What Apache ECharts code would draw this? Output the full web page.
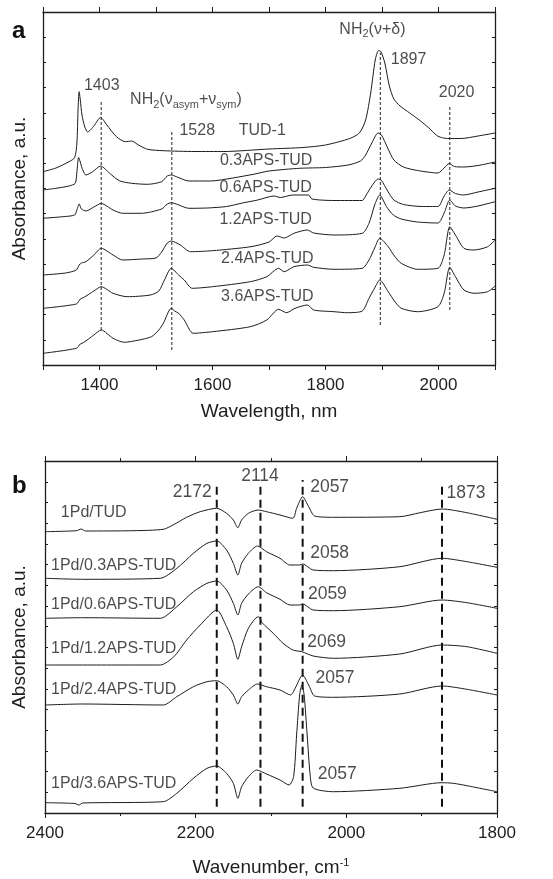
<!DOCTYPE html>
<html>
<head>
<meta charset="utf-8">
<script src="https://cdn.jsdelivr.net/npm/echarts@6/dist/echarts.min.js"></script>
<style>
  html, body { margin: 0; padding: 0; background: #fff; }
  #chart { width: 553px; height: 879px; }
</style>
</head>
<body>
<div id="chart"></div>
<script>
// ---------- Panel a: NIR spectra (wavelength, nm ; absorbance, a.u.) ----------
const tud1 = [[1300,1.933],[1323,1.97],[1346,2.033],[1356,2.073],[1360,2.22],[1362,2.55],[1364,2.733],[1366,2.65],[1369,2.50],[1374,2.38],[1379,2.33],[1390,2.39],[1402,2.475],[1413,2.40],[1430,2.283],[1446,2.233],[1457,2.24],[1469,2.20],[1485,2.157],[1513,2.143],[1569,2.135],[1620,2.135],[1700,2.16],[1760,2.175],[1800,2.20],[1843,2.265],[1860,2.32],[1871,2.45],[1880,2.72],[1888,3.05],[1894,3.145],[1898,3.135],[1905,3.02],[1913,2.79],[1921,2.66],[1932,2.59],[1949,2.52],[1966,2.45],[1983,2.37],[1997,2.295],[2005,2.275],[2016,2.265],[2040,2.265],[2070,2.29],[2100,2.32]];
const aps03 = [[1300,1.75],[1323,1.767],[1346,1.79],[1357,1.817],[1360,1.93],[1363,2.075],[1366,2.03],[1369,1.97],[1376,1.90],[1388,1.933],[1402,1.99],[1418,1.917],[1435,1.843],[1457,1.817],[1485,1.807],[1510,1.833],[1520,1.89],[1527,1.90],[1536,1.883],[1558,1.84],[1597,1.84],[1636,1.87],[1675,1.91],[1700,1.94],[1754,1.967],[1800,1.975],[1840,2.00],[1862,2.04],[1871,2.10],[1882,2.22],[1893,2.32],[1899,2.30],[1910,2.17],[1921,2.05],[1938,1.98],[1963,1.945],[1999,1.92],[2010,1.97],[2019,2.015],[2028,1.985],[2045,1.98],[2070,1.995],[2100,2.03]];
const aps06 = [[1300,1.467],[1335,1.483],[1356,1.50],[1360,1.55],[1364,1.61],[1368,1.56],[1376,1.54],[1390,1.58],[1403,1.615],[1424,1.55],[1441,1.517],[1474,1.517],[1510,1.56],[1520,1.61],[1527,1.623],[1536,1.61],[1558,1.567],[1591,1.57],[1625,1.585],[1653,1.62],[1680,1.65],[1709,1.69],[1720,1.675],[1742,1.70],[1770,1.70],[1776,1.66],[1815,1.645],[1865,1.645],[1871,1.69],[1882,1.79],[1893,1.86],[1899,1.845],[1910,1.74],[1921,1.65],[1938,1.605],[1971,1.585],[1999,1.585],[2010,1.69],[2019,1.75],[2030,1.715],[2044,1.70],[2070,1.73],[2100,1.767]];
const aps12 = [[1300,0.90],[1340,0.92],[1359,0.95],[1364,1.00],[1368,1.02],[1376,1.033],[1390,1.10],[1403,1.167],[1424,1.10],[1441,1.05],[1475,1.06],[1500,1.07],[1510,1.13],[1520,1.22],[1527,1.24],[1543,1.20],[1561,1.133],[1600,1.143],[1668,1.183],[1700,1.23],[1714,1.29],[1727,1.27],[1744,1.317],[1768,1.35],[1779,1.32],[1815,1.30],[1865,1.317],[1877,1.417],[1887,1.60],[1896,1.70],[1908,1.583],[1920,1.50],[1934,1.46],[1963,1.43],[1999,1.42],[2010,1.52],[2020,1.65],[2030,1.59],[2045,1.57],[2070,1.59],[2100,1.633]];
const aps24 = [[1300,0.567],[1359,0.61],[1366,0.66],[1372,0.675],[1390,0.74],[1403,0.783],[1424,0.717],[1449,0.683],[1490,0.70],[1505,0.74],[1515,0.85],[1527,0.967],[1540,0.90],[1550,0.85],[1564,0.767],[1600,0.783],[1667,0.833],[1696,0.883],[1717,0.967],[1727,0.933],[1744,0.983],[1768,1.00],[1779,0.977],[1815,0.957],[1865,0.967],[1877,1.05],[1887,1.17],[1896,1.267],[1911,1.183],[1922,1.09],[1934,1.017],[1963,0.957],[1999,0.967],[2010,1.10],[2020,1.383],[2030,1.30],[2045,1.167],[2063,1.15],[2087,1.183],[2100,1.25]];
const aps36 = [[1300,0.117],[1359,0.167],[1366,0.21],[1372,0.225],[1390,0.30],[1403,0.35],[1424,0.267],[1444,0.227],[1470,0.25],[1492,0.283],[1505,0.35],[1513,0.417],[1527,0.567],[1533,0.54],[1540,0.517],[1550,0.45],[1566,0.317],[1600,0.333],[1667,0.383],[1696,0.45],[1717,0.557],[1731,0.523],[1746,0.567],[1768,0.60],[1779,0.55],[1815,0.533],[1839,0.523],[1865,0.54],[1877,0.667],[1887,0.77],[1896,0.85],[1911,0.733],[1922,0.64],[1934,0.567],[1963,0.533],[1999,0.583],[2010,0.717],[2020,0.977],[2030,0.883],[2045,0.75],[2063,0.717],[2087,0.733],[2100,0.79]];

// band positions (nm) and the vertical extent of their guide lines
const aBands = [1403, 1528, 1897, 2020];
const aBandTop = [2.65, 2.333, 3.12, 2.583];
const aBandBottom = [0.35, 0.15, 0.40, 0.55];

// text annotations in panel a: [wavelength, absorbance, text]
const aNotes = [
  [1404, 2.79, '1403'],
  [1553, 2.65, 'NH{sub|2}(ν{sub|asym}+ν{sub|sym})'],
  [1573, 2.34, '1528'],
  [1688, 2.34, 'TUD-1'],
  [1695, 2.04, '0.3APS-TUD'],
  [1694, 1.773, '0.6APS-TUD'],
  [1694, 1.45, '1.2APS-TUD'],
  [1697, 1.06, '2.4APS-TUD'],
  [1697, 0.683, '3.6APS-TUD'],
  [1883, 3.357, 'NH{sub|2}(ν+δ)'],
  [1947, 3.057, '1897'],
  [2032, 2.727, '2020']
];

// ---------- Panel b: CO-adsorption IR spectra (wavenumber, cm-1) ----------
const pdTud = [[2400,2.813],[2358,2.823],[2352,2.84],[2346,2.82],[2283,2.823],[2243,2.837],[2230,2.88],[2212,2.957],[2194,3.013],[2172,3.047],[2159,2.997],[2150,2.93],[2144,2.853],[2139,2.93],[2130,2.997],[2117,3.03],[2106,3.013],[2088,2.98],[2071,2.947],[2066,3.047],[2058,3.163],[2050,3.063],[2042,2.97],[2017,2.957],[1929,2.963],[1902,3.003],[1873,3.04],[1840,3.003],[1800,2.937]];
const pd03 = [[2400,2.347],[2350,2.337],[2247,2.347],[2225,2.447],[2203,2.597],[2185,2.697],[2172,2.72],[2159,2.63],[2150,2.497],[2144,2.38],[2139,2.497],[2130,2.597],[2118,2.67],[2106,2.613],[2088,2.547],[2075,2.48],[2062,2.48],[2058,2.49],[2044,2.43],[2017,2.423],[1929,2.463],[1873,2.547],[1840,2.513],[1800,2.457]];
const pd06 = [[2400,1.947],[2350,1.953],[2247,1.947],[2225,2.063],[2203,2.213],[2185,2.297],[2172,2.32],[2159,2.23],[2150,2.097],[2144,1.98],[2139,2.097],[2130,2.19],[2117,2.263],[2106,2.203],[2088,2.137],[2075,2.08],[2062,2.08],[2058,2.09],[2044,2.03],[2017,2.023],[1929,2.063],[1873,2.13],[1840,2.103],[1800,2.047]];
const pd12 = [[2400,1.48],[2247,1.48],[2229,1.563],[2212,1.73],[2194,1.88],[2172,2.03],[2159,1.863],[2150,1.697],[2144,1.537],[2139,1.663],[2130,1.847],[2117,1.963],[2111,1.897],[2097,1.797],[2084,1.697],[2071,1.63],[2059,1.613],[2044,1.57],[2017,1.547],[1929,1.59],[1873,1.68],[1840,1.663],[1800,1.597]];
const pd24 = [[2400,1.08],[2350,1.09],[2243,1.08],[2225,1.163],[2203,1.263],[2185,1.313],[2172,1.323],[2159,1.263],[2150,1.18],[2144,1.09],[2139,1.163],[2130,1.23],[2118,1.29],[2106,1.263],[2088,1.23],[2074,1.18],[2068,1.247],[2058,1.38],[2050,1.28],[2042,1.17],[2017,1.157],[1929,1.19],[1873,1.27],[1840,1.237],[1800,1.18]];
const pd36 = [[2400,0.103],[2360,0.095],[2355,0.08],[2350,0.10],[2243,0.113],[2225,0.197],[2203,0.347],[2185,0.447],[2172,0.47],[2159,0.397],[2150,0.297],[2144,0.147],[2139,0.263],[2130,0.363],[2119,0.43],[2106,0.39],[2088,0.33],[2076,0.28],[2070,0.363],[2066,0.78],[2062,1.18],[2059,1.28],[2056,1.18],[2052,0.78],[2048,0.38],[2044,0.25],[2017,0.213],[1929,0.247],[1873,0.303],[1858,0.297],[1840,0.273],[1800,0.213]];

const bBands = [2172, 2114, 2058, 1873];
const bBandTop = [3.28, 3.28, 3.33, 3.28];
const bBandBottom = [0.063, 0.063, 0.063, 0.063];

// sample names, left-anchored: [wavenumber, absorbance, text]
const bNames = [
  [2379, 3.003, '1Pd/TUD'],
  [2392, 2.473, '1Pd/0.3APS-TUD'],
  [2392, 2.08, '1Pd/0.6APS-TUD'],
  [2392, 1.647, '1Pd/1.2APS-TUD'],
  [2392, 1.23, '1Pd/2.4APS-TUD'],
  [2392, 0.297, '1Pd/3.6APS-TUD']
];
// band values, centred
const bPeaksCentered = [
  [2204.5, 3.213, '2172'],
  [2114.6, 3.37, '2114']
];
// band values, left-anchored
const bPeaksLeft = [
  [2048, 3.263, '2057'],
  [1867, 3.197, '1873'],
  [2048, 2.597, '2058'],
  [2051, 2.19, '2059'],
  [2052, 1.713, '2069'],
  [2041, 1.347, '2057'],
  [2038, 0.387, '2057']
];

// ---------- chart ----------
const FONT = '"Liberation Sans", Arial, Helvetica, sans-serif';
const INK = '#1e1e1e';
const chart = echarts.init(document.getElementById('chart'), null, { renderer: 'canvas' });

const spectrum = (data, xi, yi) => ({
  type: 'line', data, xAxisIndex: xi, yAxisIndex: yi,
  showSymbol: false, symbol: 'none', smooth: 0.25, silent: true,
  lineStyle: { color: '#1c1c1c', width: 1 }, z: 3
});

const guide = (x, y0, y1, xi, yi, style) => ({
  type: 'line', data: [[x, y0], [x, y1]], xAxisIndex: xi, yAxisIndex: yi,
  showSymbol: false, symbol: 'none', silent: true, lineStyle: style, z: 2
});

const subRich = {
  sub: { fontSize: 11, fontFamily: FONT, color: INK, padding: [9, 0, 0, 0] }
};

const notes = (items, xi, yi, align, fontSize) => ({
  type: 'scatter', xAxisIndex: xi, yAxisIndex: yi, symbolSize: 0, silent: true,
  data: items.map(d => ({ value: [d[0], d[1]], name: d[2] })),
  label: {
    show: true, position: [0, 0], align, verticalAlign: 'middle',
    formatter: p => p.name, fontSize, fontFamily: FONT, color: INK, rich: subRich
  },
  z: 5
});

const axisLine = { show: true, onZero: false, lineStyle: { color: INK, width: 1.3 } };

const xCommon = (gi, pos, extra) => Object.assign({
  type: 'value', gridIndex: gi, position: pos,
  axisLine, splitLine: { show: false },
  axisTick: { show: true, inside: false, length: 5, lineStyle: { color: INK, width: 1 } },
  axisLabel: { show: false }
}, extra);

const yCommon = (gi, pos, max, interval, extra) => Object.assign({
  type: 'value', gridIndex: gi, position: pos, min: 0, max, interval,
  axisLine, splitLine: { show: false },
  axisTick: { show: true, inside: true, length: 3, lineStyle: { color: INK, width: 1 } },
  axisLabel: { show: false }
}, extra);

const aSeries = [tud1, aps03, aps06, aps12, aps24, aps36].map(d => spectrum(d, 0, 0));
const bSeries = [pdTud, pd03, pd06, pd12, pd24, pd36].map(d => spectrum(d, 2, 2));

const aGuides = aBands.map((x, i) => guide(x, aBandBottom[i], aBandTop[i], 0, 0,
  { color: '#222', width: 1, type: [3, 2] }));
const bGuides = bBands.map((x, i) => guide(x, bBandBottom[i], bBandTop[i], 2, 2,
  { color: '#111', width: 2, type: [8, 5] }));

chart.setOption({
  animation: false,
  backgroundColor: '#fff',
  textStyle: { fontFamily: FONT, color: INK },
  grid: [
    { left: 43, top: 12, width: 452, height: 353 },
    { left: 45, top: 461, width: 452, height: 352 }
  ],
  xAxis: [
    xCommon(0, 'bottom', {
      min: 1300, max: 2100, interval: 100,
      axisLabel: { show: true, fontSize: 17, color: INK, fontFamily: FONT, margin: 12,
        formatter: v => (v % 200 === 0 ? String(v) : '') },
      name: 'Wavelength, nm', nameLocation: 'middle', nameGap: 37,
      nameTextStyle: { fontSize: 19, color: INK, fontFamily: FONT }
    }),
    xCommon(0, 'top', { min: 1300, max: 2100, interval: 100 }),
    xCommon(1, 'bottom', {
      min: 1800, max: 2400, interval: 200, inverse: true,
      minorTick: { show: true, splitNumber: 2, length: 3, lineStyle: { color: INK, width: 1 } },
      axisLabel: { show: true, fontSize: 17, color: INK, fontFamily: FONT, margin: 12,
        formatter: v => String(v) },
      name: 'Wavenumber, cm{sup|-1}', nameLocation: 'middle', nameGap: 44,
      nameTextStyle: { fontSize: 19, color: INK, fontFamily: FONT,
        rich: { sup: { fontSize: 11, color: INK, fontFamily: FONT, padding: [0, 0, 10, 0] } } }
    }),
    xCommon(1, 'top', {
      min: 1800, max: 2400, interval: 200, inverse: true,
      minorTick: { show: true, splitNumber: 2, length: 3, lineStyle: { color: INK, width: 1 } }
    })
  ],
  yAxis: [
    yCommon(0, 'left', 3.53, 0.2521, {
      name: 'Absorbance, a.u.', nameLocation: 'middle', nameGap: 14,
      nameTextStyle: { fontSize: 19, color: INK, fontFamily: FONT }
    }),
    yCommon(0, 'right', 3.53, 0.2521),
    yCommon(1, 'left', 3.52, 0.207, {
      name: 'Absorbance, a.u.', nameLocation: 'middle', nameGap: 16,
      nameTextStyle: { fontSize: 19, color: INK, fontFamily: FONT }
    }),
    yCommon(1, 'right', 3.52, 0.207)
  ],
  graphic: [
    { type: 'text', left: 12, top: 19, style: { text: 'a', font: 'bold 24px ' + FONT, fill: '#111' } },
    { type: 'text', left: 12, top: 474, style: { text: 'b', font: 'bold 24px ' + FONT, fill: '#111' } }
  ],
  series: [
    ...aGuides, ...bGuides, ...aSeries, ...bSeries,
    notes(aNotes, 0, 0, 'center', 16),
    notes(bNames, 2, 2, 'left', 16),
    notes(bPeaksCentered, 2, 2, 'center', 17.5),
    notes(bPeaksLeft, 2, 2, 'left', 17.5)
  ]
});
</script>
</body>
</html>
